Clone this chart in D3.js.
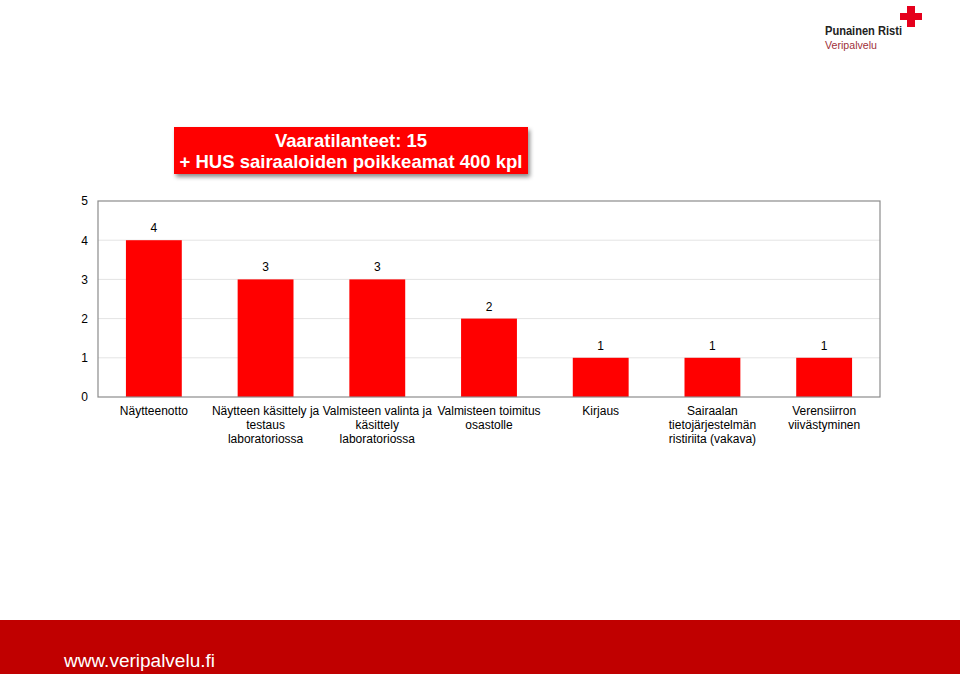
<!DOCTYPE html>
<html>
<head>
<meta charset="utf-8">
<script src="https://cdn.jsdelivr.net/npm/d3@7"></script>
<style>
  html, body { margin: 0; padding: 0; background: #fff; }
  svg { display: block; font-family: Arial, "Liberation Sans", sans-serif; }
</style>
</head>
<body>
<svg id="chart" width="960" height="674"></svg>
<script>
const categories = [
  ["Näytteenotto"],
  ["Näytteen käsittely ja", "testaus", "laboratoriossa"],
  ["Valmisteen valinta ja", "käsittely", "laboratoriossa"],
  ["Valmisteen toimitus", "osastolle"],
  ["Kirjaus"],
  ["Sairaalan", "tietojärjestelmän", "ristiriita (vakava)"],
  ["Verensiirron", "viivästyminen"]
];
const values = [4, 3, 3, 2, 1, 1, 1];
const yTicks = [0, 1, 2, 3, 4, 5];
const titleLines = ["Vaaratilanteet: 15", "+ HUS sairaaloiden poikkeamat 400 kpl"];

const svg = d3.select("#chart");
const plot = { left: 98, right: 880, top: 201, bottom: 397 };

// Footer band
svg.append("rect").attr("x", 0).attr("y", 620).attr("width", 960).attr("height", 54).attr("fill", "#c00000");
svg.append("text").attr("x", 64).attr("y", 667).attr("fill", "#fff")
  .attr("font-size", 19).text("www.veripalvelu.fi");

// Logo
const cross = svg.append("g").attr("fill", "#e5001c");
cross.append("rect").attr("x", 907).attr("y", 6).attr("width", 8).attr("height", 21);
cross.append("rect").attr("x", 900).attr("y", 13).attr("width", 22).attr("height", 7);
svg.append("text").attr("x", 825).attr("y", 35).attr("font-size", 12).attr("font-weight", "bold")
  .attr("fill", "#222").attr("textLength", 77).attr("lengthAdjust", "spacingAndGlyphs").text("Punainen Risti");
svg.append("text").attr("x", 825).attr("y", 49).attr("font-size", 11.5)
  .attr("fill", "#a0303a").attr("textLength", 52).attr("lengthAdjust", "spacingAndGlyphs").text("Veripalvelu");

// Title box with shadow
const defs = svg.append("defs");
const f = defs.append("filter").attr("id", "sh").attr("x", "-10%").attr("y", "-20%").attr("width", "120%").attr("height", "150%");
f.append("feDropShadow").attr("dx", 2).attr("dy", 3).attr("stdDeviation", 2).attr("flood-color", "#000").attr("flood-opacity", 0.45);
svg.append("rect").attr("x", 174).attr("y", 127).attr("width", 354).attr("height", 47)
  .attr("fill", "#ff0000").attr("filter", "url(#sh)");
titleLines.forEach((t, i) => {
  svg.append("text").attr("x", 351).attr("y", 147 + i * 21).attr("text-anchor", "middle")
    .attr("fill", "#fff").attr("font-weight", "bold").attr("font-size", 18.5).text(t);
});

// Scales
const x = d3.scaleBand().domain(d3.range(categories.length)).range([plot.left, plot.right]).paddingInner(0.5).paddingOuter(0.25);
const y = d3.scaleLinear().domain([0, 5]).range([plot.bottom, plot.top]);

// Gridlines
svg.append("g").selectAll("line").data(yTicks.filter(d => d > 0 && d < 5)).join("line")
  .attr("x1", plot.left).attr("x2", plot.right)
  .attr("y1", d => y(d)).attr("y2", d => y(d))
  .attr("stroke", "#e4e4e4").attr("stroke-width", 1);

// Bars
svg.append("g").selectAll("rect").data(values).join("rect")
  .attr("x", (d, i) => x(i)).attr("width", x.bandwidth())
  .attr("y", d => y(d)).attr("height", d => y(0) - y(d))
  .attr("fill", "#ff0000");

// Value labels
svg.append("g").selectAll("text").data(values).join("text")
  .attr("x", (d, i) => x(i) + x.bandwidth() / 2).attr("y", d => y(d) - 8)
  .attr("text-anchor", "middle").attr("font-size", 12).attr("fill", "#000").text(d => d);

// Frame
svg.append("rect").attr("x", plot.left).attr("y", plot.top)
  .attr("width", plot.right - plot.left).attr("height", plot.bottom - plot.top)
  .attr("fill", "none").attr("stroke", "#8c8c8c").attr("stroke-width", 1.2);

// Y axis
const yAxis = d3.axisLeft(y).tickValues(yTicks).tickSize(0).tickPadding(10).tickFormat(d3.format("d"));
const ya = svg.append("g").attr("transform", `translate(${plot.left},0)`).call(yAxis);
ya.select(".domain").remove();
ya.selectAll("text").attr("font-size", 12).attr("fill", "#000").attr("font-family", "Arial, 'Liberation Sans', sans-serif");

// X axis labels
const xl = svg.append("g").selectAll("text").data(categories).join("text")
  .attr("text-anchor", "middle").attr("font-size", 12).attr("fill", "#000")
  .attr("transform", (d, i) => `translate(${x(i) + x.bandwidth() / 2},415)`);
xl.selectAll("tspan").data(d => d).join("tspan")
  .attr("x", 0).attr("y", (d, j) => j * 14).text(d => d);
</script>
</body>
</html>
